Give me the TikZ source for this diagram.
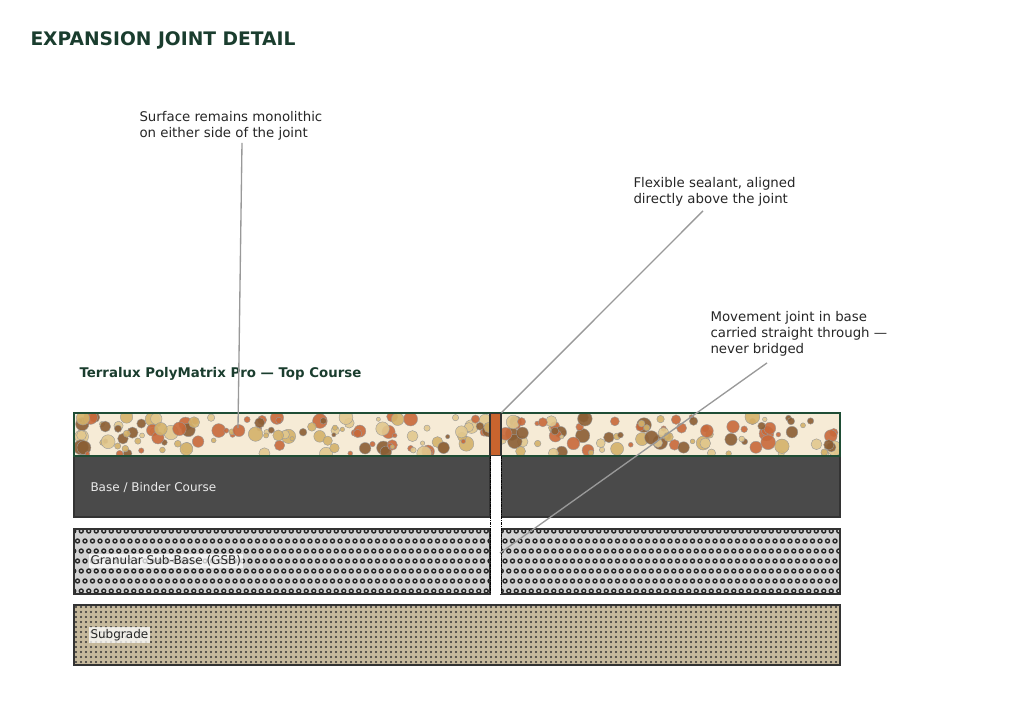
\documentclass[tikz,border=0pt]{standalone}
\usepackage{fontspec}
\setmainfont{DejaVu Sans}
\definecolor{titlegreen}{HTML}{1A3D2E}
\definecolor{edgegreen}{HTML}{1F4D35}
\definecolor{topfill}{HTML}{F6EBD6}
\definecolor{basefill}{HTML}{4A4A4A}
\definecolor{gsbfill}{HTML}{D2D2D2}
\definecolor{subfill}{HTML}{C6B99C}
\definecolor{sealant}{HTML}{C8642E}
\definecolor{leader}{HTML}{999999}
\definecolor{aggA}{HTML}{D4B26A}
\definecolor{aggB}{HTML}{C8693A}
\definecolor{aggC}{HTML}{8B5E34}
\definecolor{aggD}{HTML}{E2C88E}
\tikzset{every picture/.style={line width=0.75pt}}
\tikzset{
  callout/.style={anchor=north west,align=left,font=\fontsize{10}{12}\selectfont,text=black!85,inner sep=0pt},
  layertext/.style={anchor=west,font=\fontsize{9}{11}\selectfont,inner sep=1.5pt},
  leaderline/.style={draw=leader,line width=1pt},
  jointedge/.style={draw=black,line width=0.6pt,dash pattern=on 2pt off 1pt on 0.5pt off 1pt}
}
\pgfmathdeclarerandomlist{agg}{{aggA}{aggB}{aggC}{aggD}}
\begin{document}
\begin{tikzpicture}[x=0.75pt,y=0.75pt,yscale=-1,xscale=1]
\useasboundingbox (0,0) rectangle (1024,717);

% Title
\node[anchor=west,font=\fontsize{14}{16}\selectfont\bfseries,text=titlegreen,inner sep=0pt] (title) at (30,40) {EXPANSION JOINT DETAIL};

% Subgrade
\fill[subfill] (74,605) rectangle (840,665);
\begin{scope}
\clip (74,605) rectangle (840,665);
\foreach \x in {76,81,...,840} \foreach \y in {607,612,...,665} \fill[black!80] (\x,\y) circle [radius=1.1];
\end{scope}
\draw[black!80,line width=1pt] (74,605) rectangle (840,665);

% Granular sub-base
\fill[gsbfill] (74,529) rectangle (490,594) (501,529) rectangle (840,594);
\begin{scope}
\clip (74,529) rectangle (490,594) (501,529) rectangle (840,594);
\foreach \y [count=\j] in {531,541,...,594} \foreach \x in {70,77.5,...,845} \draw[black!85,line width=1pt] ({\x+mod(\j,2)*3.75},\y) circle [radius=2];
\end{scope}
\draw[black!80,line width=1pt] (74,529) rectangle (490,594) (501,529) rectangle (840,594);

% Base / binder
\fill[basefill,draw=black!80,line width=1pt] (74,456) rectangle (490,517) (501,456) rectangle (840,517);

% Top course with aggregates
\fill[topfill] (74,413) rectangle (840,456);
\pgfmathsetseed{42}
\begin{scope}
\clip (74,413) rectangle (490,456) (501,413) rectangle (840,456);
\foreach \i in {1,...,230}{
  \pgfmathsetmacro{\ax}{76+rnd*762}
  \pgfmathsetmacro{\ay}{416+rnd*38}
  \pgfmathsetmacro{\ar}{2+rnd*5.5}
  \pgfmathrandomitem{\ac}{agg}
  \fill[\ac,draw=black!40,line width=0.3pt,fill opacity=0.9] (\ax,\ay) circle [radius=\ar];
}
\end{scope}
\draw[edgegreen,line width=1.3pt] (74,413) rectangle (840,456);

% Joint and sealant
\fill[white] (490.5,456) rectangle (500.5,594);
\draw[jointedge] (490,456) -- (490,594) (501,456) -- (501,594);
\node[draw=black!80,fill=sealant,line width=0.8pt,minimum width=8.25pt,minimum height=32pt,inner sep=0pt] (seal) at (495.5,434.5) {};

% Layer labels
\node[anchor=west,font=\fontsize{10}{12}\selectfont\bfseries,text=titlegreen,inner sep=0pt] (toplabel) at (79,374) {Terralux PolyMatrix Pro — Top Course};
\node[layertext,text=white!92!black] (baselabel) at (88,487) {Base / Binder Course};
\node[layertext,text=black!85,fill=white,fill opacity=0.75,text opacity=1] (gsblabel) at (88,561) {Granular Sub-Base (GSB)};
\node[layertext,text=black!85,fill=white,fill opacity=0.75,text opacity=1] (sublabel) at (88,635) {Subgrade};

% Callouts
\node[callout] (surface) at (139,111) {Surface remains monolithic\\on either side of the joint};
\node[callout] (flexible) at (633,177) {Flexible sealant, aligned\\directly above the joint};
\node[callout] (movement) at (710,311) {Movement joint in base\\carried straight through —\\never bridged};
\coordinate (surfaceend) at (238,428);
\coordinate (movementend) at (500,553);
\draw[leaderline] (surface.south west) ++(103,2) -- (surfaceend);
\draw[leaderline] (flexible.south west) ++(70,4) -- (seal.north east);
\draw[leaderline] (movement.south west) ++(57,6) -- (movementend);

\end{tikzpicture}
\end{document}
